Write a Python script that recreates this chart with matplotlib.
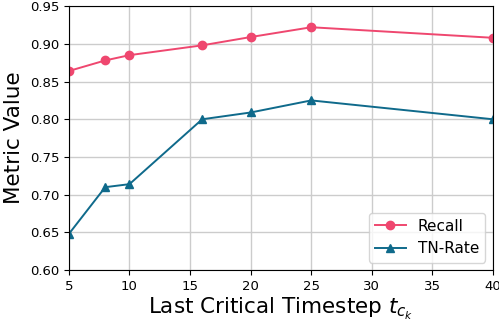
import matplotlib
matplotlib.use('Agg')
import matplotlib.pyplot as plt

# Last critical timestep values and metrics
timesteps = [5, 8, 10, 16, 20, 25, 40]
recall = [0.864, 0.878, 0.885, 0.898, 0.909, 0.922, 0.908]
tn_rate = [0.648, 0.710, 0.714, 0.800, 0.809, 0.825, 0.800]

fig, ax = plt.subplots(figsize=(4.99, 3.22), dpi=100)
ax.plot(timesteps, recall, marker='o', color='#ef476f', markersize=6, linewidth=1.4, label='Recall')
ax.plot(timesteps, tn_rate, marker='^', color='#0f6a8b', markersize=6, linewidth=1.4, label='TN-Rate')

ax.set_xlim(5, 40)
ax.set_ylim(0.60, 0.95)
ax.set_xticks(range(5, 41, 5))
ax.set_xlabel('Last Critical Timestep $t_{c_k}$', fontsize=15.5, labelpad=2)
ax.set_ylabel('Metric Value', fontsize=15.5)
ax.tick_params(labelsize=9.5)
ax.grid(True, color='#cccccc', linewidth=1)
ax.legend(loc='lower right', fontsize=11)

plt.subplots_adjust(left=0.138, right=0.988, top=0.981, bottom=0.161)
plt.savefig('out.png', dpi=100)
